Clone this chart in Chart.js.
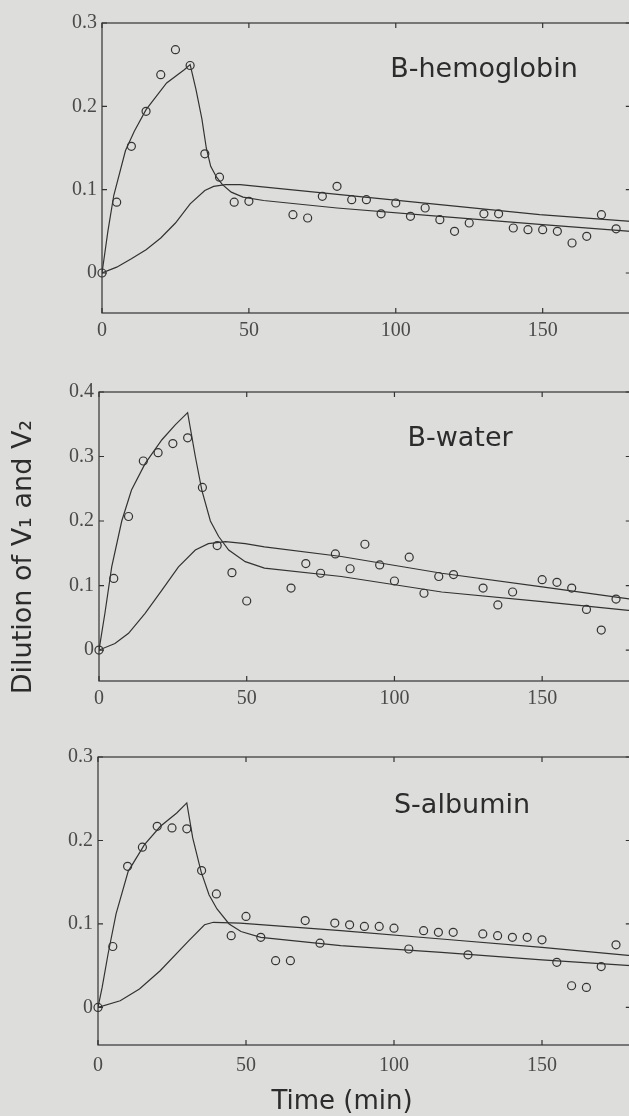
<!DOCTYPE html>
<html lang="en">
<head>
<meta charset="UTF-8">
<title>Dilution of V1 and V2</title>
<script src="https://cdn.jsdelivr.net/npm/chart.js"></script>
<style>
  html, body { margin: 0; padding: 0; background: #dddddb; overflow: hidden; }
  .panel { position: absolute; left: 0; }
</style>
</head>
<body>
<div class="panel" style="top:0px"><canvas id="hbChart" width="636" height="345"></canvas></div>
<div class="panel" style="top:345px"><canvas id="waterChart" width="636" height="375"></canvas></div>
<div class="panel" style="top:720px"><canvas id="albChart" width="636" height="396"></canvas></div>
<script>
// ---- data ----
const xTicks = [0, 50, 100, 150];
const yTicksSmall = [0, 0.1, 0.2, 0.3];
const yTicksWater = [0, 0.1, 0.2, 0.3, 0.4];

// B-hemoglobin
const hbTimes = [0, 5, 10, 15, 20, 25, 30, 35, 40, 45, 50, 65, 70, 75, 80, 85, 90, 95, 100, 105, 110, 115, 120, 125, 130, 135, 140, 145, 150, 155, 160, 165, 170, 175];
const hbObserved = [0, 0.085, 0.152, 0.194, 0.238, 0.268, 0.249, 0.143, 0.115, 0.085, 0.086, 0.070, 0.066, 0.092, 0.104, 0.088, 0.088, 0.071, 0.084, 0.068, 0.078, 0.064, 0.050, 0.060, 0.071, 0.071, 0.054, 0.052, 0.052, 0.050, 0.036, 0.044, 0.070, 0.053];
const hbV1Times = [0, 2, 4, 8, 11, 15, 22, 28, 30, 32, 34, 35.5, 37, 39, 41, 44, 48, 55, 80, 115, 150, 180];
const hbV1 = [0, 0.050, 0.093, 0.147, 0.170, 0.196, 0.228, 0.244, 0.250, 0.220, 0.185, 0.150, 0.128, 0.115, 0.106, 0.097, 0.091, 0.087, 0.078, 0.068, 0.058, 0.050];
const hbV2Times = [0, 5, 10, 15, 20, 25, 30, 35, 38, 42, 47, 81, 115, 149, 180];
const hbV2 = [0, 0.007, 0.017, 0.028, 0.042, 0.060, 0.083, 0.099, 0.104, 0.106, 0.106, 0.094, 0.082, 0.070, 0.062];

// B-water
const waterTimes = [0, 5, 10, 15, 20, 25, 30, 35, 40, 45, 50, 65, 70, 75, 80, 85, 90, 95, 100, 105, 110, 115, 120, 130, 135, 140, 150, 155, 160, 165, 170, 175];
const waterObserved = [0, 0.111, 0.207, 0.293, 0.306, 0.320, 0.329, 0.252, 0.162, 0.120, 0.076, 0.096, 0.134, 0.119, 0.149, 0.126, 0.164, 0.132, 0.107, 0.144, 0.088, 0.114, 0.117, 0.096, 0.070, 0.090, 0.109, 0.105, 0.096, 0.063, 0.031, 0.079];
const waterV1Times = [0, 2, 4.3, 7.7, 11, 15.6, 21.3, 25.8, 30, 32.6, 34.8, 37.7, 40.5, 43.9, 49.5, 56, 82, 116, 150, 180];
const waterV1 = [0, 0.057, 0.129, 0.200, 0.248, 0.289, 0.326, 0.349, 0.368, 0.300, 0.248, 0.200, 0.176, 0.155, 0.137, 0.127, 0.114, 0.090, 0.075, 0.061];
const waterV2Times = [0, 5.4, 10, 15.6, 21.3, 26.9, 32.6, 37, 42.8, 49.5, 56, 82, 116, 150, 180];
const waterV2 = [0, 0.010, 0.026, 0.057, 0.093, 0.129, 0.155, 0.165, 0.168, 0.165, 0.160, 0.145, 0.119, 0.098, 0.079];

// S-albumin
const albTimes = [0, 5, 10, 15, 20, 25, 30, 35, 40, 45, 50, 55, 60, 65, 70, 75, 80, 85, 90, 95, 100, 105, 110, 115, 120, 125, 130, 135, 140, 145, 150, 155, 160, 165, 170, 175];
const albObserved = [0, 0.073, 0.169, 0.192, 0.217, 0.215, 0.214, 0.164, 0.136, 0.086, 0.109, 0.084, 0.056, 0.056, 0.104, 0.077, 0.101, 0.099, 0.097, 0.097, 0.095, 0.070, 0.092, 0.090, 0.090, 0.063, 0.088, 0.086, 0.084, 0.084, 0.081, 0.054, 0.026, 0.024, 0.049, 0.075];
const albV1Times = [0, 1.4, 3.4, 6.1, 10.2, 15.7, 21.1, 26.6, 30, 32, 34.8, 37.5, 40.2, 44.3, 48.3, 55, 82, 116, 150, 180];
const albV1 = [0, 0.024, 0.064, 0.112, 0.163, 0.195, 0.217, 0.233, 0.245, 0.203, 0.163, 0.135, 0.118, 0.100, 0.091, 0.084, 0.074, 0.066, 0.057, 0.050];
const albV2Times = [0, 7.5, 14, 21, 30.7, 36, 39, 48, 82, 116, 150, 180];
const albV2 = [0, 0.008, 0.022, 0.044, 0.080, 0.099, 0.102, 0.101, 0.092, 0.082, 0.072, 0.062];

const ink = '#333333';
const labelInk = '#4a4a4a';
const serif = "'Liberation Serif', 'Times New Roman', serif";
const sans = "'DejaVu Sans', sans-serif";

const pairs = (xs, ys) => xs.map((x, i) => ({ x: x, y: ys[i] }));

// frame with inward ticks on all four sides, plus the panel's texts
const frameTicks = {
    id: 'frameTicks',
    afterDatasetsDraw(chart, args, opts) {
        const { ctx, chartArea: a, scales: { x, y } } = chart;
        ctx.save();
        ctx.strokeStyle = ink;
        ctx.lineWidth = 1.2;
        ctx.strokeRect(a.left, a.top, a.right - a.left, a.bottom - a.top);
        ctx.beginPath();
        xTicks.forEach(v => {
            const px = x.getPixelForValue(v);
            ctx.moveTo(px, a.bottom); ctx.lineTo(px, a.bottom - 5);
            ctx.moveTo(px, a.top); ctx.lineTo(px, a.top + 5);
        });
        opts.yTicks.forEach(v => {
            const py = y.getPixelForValue(v);
            ctx.moveTo(a.left, py); ctx.lineTo(a.left + 5, py);
            ctx.moveTo(a.right, py); ctx.lineTo(a.right - 5, py);
        });
        ctx.stroke();

        ctx.fillStyle = '#2c2c2c';
        ctx.font = '27px ' + sans;
        ctx.textAlign = 'center';
        ctx.textBaseline = 'alphabetic';
        ctx.fillText(opts.title, opts.titleX, opts.titleY);
        if (opts.xTitle) {
            ctx.font = '26px ' + sans;
            ctx.fillText(opts.xTitle, opts.xTitleX, opts.xTitleY);
        }
        if (opts.yTitle) {
            ctx.font = '27px ' + sans;
            ctx.translate(opts.yTitleX, opts.yTitleY);
            ctx.rotate(-Math.PI / 2);
            ctx.textBaseline = 'middle';
            ctx.fillText(opts.yTitle, 0, 0);
        }
        ctx.restore();
    }
};

function makePanel(id, p) {
    new Chart(document.getElementById(id), {
        type: 'scatter',
        data: {
            datasets: [
                { data: pairs(p.v1Times, p.v1), showLine: true, borderColor: ink, borderWidth: 1.2, pointRadius: 0, tension: 0 },
                { data: pairs(p.v2Times, p.v2), showLine: true, borderColor: ink, borderWidth: 1.2, pointRadius: 0, tension: 0 },
                { data: pairs(p.times, p.observed), showLine: false, borderColor: ink, backgroundColor: 'rgba(0,0,0,0)',
                  borderWidth: 1.2, pointRadius: 4, pointHoverRadius: 4, clip: false }
            ]
        },
        options: {
            responsive: false,
            animation: false,
            layout: { padding: { top: p.padTop, right: 0, left: 0, bottom: 0 } },
            plugins: {
                legend: { display: false },
                tooltip: { enabled: false },
                frameTicks: p.texts
            },
            scales: {
                x: {
                    type: 'linear', min: 0, max: 180,
                    grid: { display: false, drawTicks: false },
                    border: { display: false },
                    afterBuildTicks: axis => { axis.ticks = xTicks.map(v => ({ value: v })); },
                    afterFit: axis => { axis.height = p.xAxisH; },
                    ticks: { padding: p.xPad, color: labelInk, font: { family: serif, size: 20 }, maxRotation: 0 }
                },
                y: {
                    min: p.yMin, max: p.yMax,
                    grid: { display: false, drawTicks: false },
                    border: { display: false },
                    afterBuildTicks: axis => { axis.ticks = p.texts.yTicks.map(v => ({ value: v })); },
                    afterFit: axis => { axis.width = p.yAxisW; },
                    ticks: { padding: 5, color: labelInk, font: { family: serif, size: 20 },
                             callback: v => v === 0 ? '0' : v.toFixed(1) }
                }
            }
        },
        plugins: [frameTicks]
    });
}

makePanel('hbChart', {
    times: hbTimes, observed: hbObserved, v1Times: hbV1Times, v1: hbV1, v2Times: hbV2Times, v2: hbV2,
    padTop: 23, xAxisH: 32, yAxisW: 102, xPad: 6, yMin: -0.048, yMax: 0.3,
    texts: { yTicks: yTicksSmall, title: 'B-hemoglobin', titleX: 484, titleY: 77 }
});

makePanel('waterChart', {
    times: waterTimes, observed: waterObserved, v1Times: waterV1Times, v1: waterV1, v2Times: waterV2Times, v2: waterV2,
    padTop: 47, xAxisH: 39, yAxisW: 99, xPad: 6, yMin: -0.048, yMax: 0.4,
    texts: { yTicks: yTicksWater, title: 'B-water', titleX: 460, titleY: 101,
             yTitle: 'Dilution of V\u2081 and V\u2082', yTitleX: 24, yTitleY: 212 }
});

makePanel('albChart', {
    times: albTimes, observed: albObserved, v1Times: albV1Times, v1: albV1, v2Times: albV2Times, v2: albV2,
    padTop: 37, xAxisH: 71, yAxisW: 98, xPad: 9, yMin: -0.045, yMax: 0.3,
    texts: { yTicks: yTicksSmall, title: 'S-albumin', titleX: 462, titleY: 93,
             xTitle: 'Time (min)', xTitleX: 342, xTitleY: 389 }
});
</script>
</body>
</html>
